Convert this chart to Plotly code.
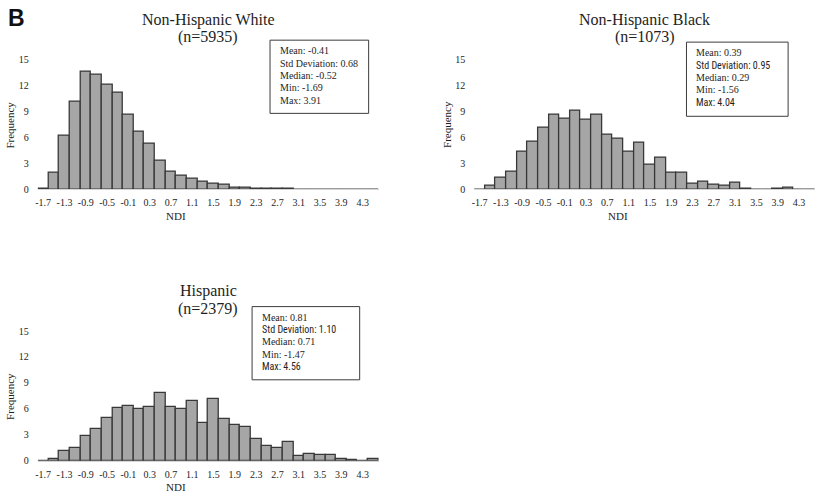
import plotly.graph_objects as go

# ---------------- data ----------------
bin_centers = [-1.7, -1.5, -1.3, -1.1, -0.9, -0.7, -0.5, -0.3, -0.1, 0.1, 0.3, 0.5,
               0.7, 0.9, 1.1, 1.3, 1.5, 1.7, 1.9, 2.1, 2.3, 2.5, 2.7, 2.9,
               3.1, 3.3, 3.5, 3.7, 3.9, 4.1, 4.3, 4.5]
tick_values = [-1.7, -1.3, -0.9, -0.5, -0.1, 0.3, 0.7, 1.1, 1.5, 1.9, 2.3, 2.7, 3.1, 3.5, 3.9, 4.3]
tick_labels = ["-1.7", "-1.3", "-0.9", "-0.5", "-0.1", "0.3", "0.7", "1.1", "1.5", "1.9",
               "2.3", "2.7", "3.1", "3.5", "3.9", "4.3"]
y_ticks = [0, 3, 6, 9, 12, 15]

freq_white = [0.1, 2.0, 6.2, 10.2, 13.6, 13.3, 12.1, 11.2, 8.7, 6.7, 5.3, 3.3,
              2.1, 1.6, 1.2, 0.95, 0.7, 0.5, 0.25, 0.2, 0.15, 0.08, 0.08, 0.07,
              0.02, 0.0, 0.01, 0.01, 0.02, 0.0, 0.0, 0.0]
freq_black = [0.0, 0.4, 1.4, 2.1, 4.4, 5.5, 7.2, 8.7, 8.15, 9.1, 8.1, 8.6,
              6.3, 5.9, 4.4, 5.4, 2.9, 3.7, 2.0, 2.0, 0.64, 0.87, 0.53, 0.45,
              0.8, 0.08, 0.0, 0.0, 0.08, 0.2, 0.0, 0.0]
freq_hisp = [0.0, 0.23, 1.17, 1.5, 2.83, 3.7, 4.9, 6.1, 6.3, 5.96, 6.2, 7.85,
             6.25, 5.96, 6.87, 4.34, 7.2, 4.8, 4.1, 3.9, 2.5, 1.7, 1.47, 2.15,
             0.5, 0.75, 0.68, 0.68, 0.23, 0.05, 0.0, 0.2]

titles = ["Non-Hispanic White", "Non-Hispanic Black", "Hispanic"]
ns = ["(n=5935)", "(n=1073)", "(n=2379)"]
stats_white = ["Mean: -0.41", "Std Deviation: 0.68", "Median: -0.52", "Min: -1.69", "Max: 3.91"]
stats_black = ["Mean: 0.39", "Std Deviation: 0.95", "Median: 0.29", "Min: -1.56", "Max: 4.04"]
stats_hisp = ["Mean: 0.81", "Std Deviation: 1.10", "Median: 0.71", "Min: -1.47", "Max: 4.56"]

# ---------------- layout helpers ----------------
W, H = 818, 500
SERIF = "Liberation Serif, Times New Roman, serif"
SANS_NARROW = "Liberation Sans Narrow, Roboto Condensed, Roboto, Liberation Sans, sans-serif"
TXT = "#1e1e1e"


def px(x):
    return x / W


def py(y):
    return 1 - y / H


panels = [
    dict(x0=35, x1=377, yb=188, yt=55, data=freq_white, stats=stats_white,
         box=(268, 35, 367, 110), sans_lines=set()),
    dict(x0=473, x1=815, yb=188, yt=55, data=freq_black, stats=stats_black,
         box=(686, 37, 788, 113), sans_lines={1, 4}),
    dict(x0=35, x1=377, yb=466, yt=333, data=freq_hisp, stats=stats_hisp,
         box=(250, 308, 358, 383), sans_lines={1, 4}),
]

fig = go.Figure()
annotations = []
shapes = []

for i, p in enumerate(panels):
    k = "" if i == 0 else str(i + 1)
    fig.add_trace(go.Bar(
        x=bin_centers, y=p["data"], width=0.2,
        marker=dict(color="#a6a6a6", line=dict(color="#383838", width=1.3)),
        xaxis="x" + k, yaxis="y" + k, showlegend=False, hoverinfo="x+y"))

    fig.update_layout(**{
        "xaxis" + k: dict(
            domain=[px(p["x0"]), px(p["x1"])], range=[-1.8, 4.6],
            anchor="y" + k, tickvals=tick_values, ticktext=tick_labels,
            showgrid=False, zeroline=False, showline=True, linecolor="#d4d4d4",
            linewidth=1, ticks="", tickfont=dict(family=SERIF, size=10, color=TXT),
            ticklabelstandoff=4, fixedrange=True),
        "yaxis" + k: dict(
            domain=[py(p["yb"]), py(p["yt"])], range=[0, 15],
            anchor="x" + k, tickvals=y_ticks, showgrid=False, zeroline=False,
            showline=False, ticks="", tickfont=dict(family=SERIF, size=10, color=TXT),
            ticklabelstandoff=8, fixedrange=True),
    })

    cx = (p["x0"] + p["x1"]) / 2
    ty = p["yt"] - 41
    annotations.append(dict(x=px(cx), y=py(ty), xref="paper", yref="paper",
                            text=titles[i], showarrow=False,
                            font=dict(family=SERIF, size=16, color=TXT),
                            xanchor="center", yanchor="middle"))
    annotations.append(dict(x=px(cx), y=py(ty + 18), xref="paper", yref="paper",
                            text=ns[i], showarrow=False,
                            font=dict(family=SERIF, size=16, color=TXT),
                            xanchor="center", yanchor="middle"))
    annotations.append(dict(x=px(p["x0"] - 28), y=py((p["yb"] + p["yt"]) / 2),
                            xref="paper", yref="paper", text="Frequency",
                            showarrow=False, textangle=-90,
                            font=dict(family=SERIF, size=11, color=TXT),
                            xanchor="center", yanchor="middle"))
    annotations.append(dict(x=px(cx - 32 if i != 1 else cx - 27), y=py(p["yb"] + 27),
                            xref="paper", yref="paper", text="NDI",
                            showarrow=False,
                            font=dict(family=SERIF, size=11, color=TXT),
                            xanchor="center", yanchor="middle"))
    bx0, by0, bx1, by1 = p["box"]
    shapes.append(dict(type="rect", xref="paper", yref="paper",
                       x0=px(bx0), x1=px(bx1), y0=py(by1), y1=py(by0),
                       line=dict(color="#3c3c3c", width=1), fillcolor="white"))
    for j, line in enumerate(p["stats"]):
        fam = SANS_NARROW if j in p["sans_lines"] else SERIF
        annotations.append(dict(x=px(bx0 + 8), y=py(by0 + 11 + j * 12.6),
                                xref="paper", yref="paper", text=line,
                                showarrow=False, font=dict(family=fam, size=10, color=TXT),
                                xanchor="left", yanchor="middle"))

annotations.append(dict(x=px(3), y=py(12), xref="paper", yref="paper", text="<b>B</b>",
                        showarrow=False, font=dict(family="Liberation Sans, Arial, sans-serif",
                                                   size=23, color="#111111"),
                        xanchor="left", yanchor="middle"))

fig.update_layout(width=W, height=H, margin=dict(l=0, r=0, t=0, b=0),
                  plot_bgcolor="white", paper_bgcolor="white",
                  annotations=annotations, shapes=shapes, bargap=0)

fig.write_html("out.html", config={"displayModeBar": False},
               post_script="document.body.style.margin='0';document.body.style.overflow='hidden';")
